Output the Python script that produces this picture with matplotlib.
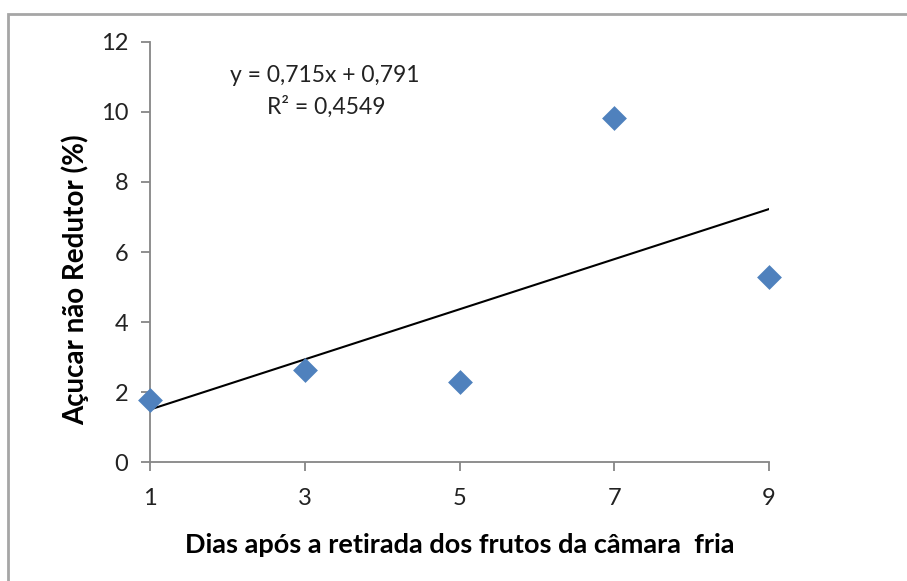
import matplotlib.pyplot as plt
from matplotlib.patches import Rectangle

# Dias após a retirada dos frutos e açúcar não redutor (%)
dias = [1, 3, 5, 7, 9]
acucar = [1.78, 2.62, 2.28, 9.82, 5.30]

# linha de tendência linear (Excel)
slope = 0.715
intercept = 0.791
r2 = 0.4549

x_ticks = [1, 3, 5, 7, 9]
y_ticks = [0, 2, 4, 6, 8, 10, 12]

plt.rcParams['font.family'] = ['Lato', 'DejaVu Sans']

fig = plt.figure(figsize=(9.07, 5.81), dpi=100)
ax = fig.add_axes([0.1654, 0.2043, 0.6825, 0.7239])

ax.scatter(dias, acucar, marker='D', s=160, color='#4F81BD', zorder=3, linewidths=0,
           clip_on=False)

x_line = [min(dias), max(dias)]
y_line = [slope * x + intercept for x in x_line]
ax.plot(x_line, y_line, color='black', lw=1.5, zorder=2)

ax.set_xlim(1, 9)
ax.set_ylim(0, 12)
ax.set_xticks(x_ticks)
ax.set_yticks(y_ticks)

for s in ['top', 'right']:
    ax.spines[s].set_visible(False)
for s in ['left', 'bottom']:
    ax.spines[s].set_color('#868686')
    ax.spines[s].set_linewidth(1.3)
ax.tick_params(axis='both', direction='out', length=6.5, width=1.3, color='#868686',
               labelsize=17, labelcolor='#222222')
ax.tick_params(axis='x', pad=12)
ax.tick_params(axis='y', pad=9)

ax.set_xlabel('Dias após a retirada dos frutos da câmara  fria', fontsize=19.5,
              fontweight='bold')
ax.set_ylabel('Açucar não Redutor (%)', fontsize=20, fontweight='bold')
ax.xaxis.set_label_coords(0.5, -0.197)
ax.yaxis.set_label_coords(-0.121, 0.435)
ax.xaxis.label.set_va('center')
ax.yaxis.label.set_va('center')

eq = 'y = {:.3f}x + {:.3f}'.format(slope, intercept).replace('.', ',')
r2_txt = 'R² = {:.4f}'.format(r2).replace('.', ',')
fig.text(325 / 907, 1 - 76 / 581, eq, fontsize=16.5, ha='center', va='center',
         color='#222222')
fig.text(326 / 907, 1 - 107 / 581, r2_txt, fontsize=16.5, ha='center', va='center',
         color='#222222')

border = Rectangle((8 / 907, -0.1), 1.2, 1 - 14 / 581 + 0.1, transform=fig.transFigure,
                   fill=False, edgecolor='#A6A6A6', lw=2)
fig.patches.append(border)

fig.savefig('out.png', dpi=100)
